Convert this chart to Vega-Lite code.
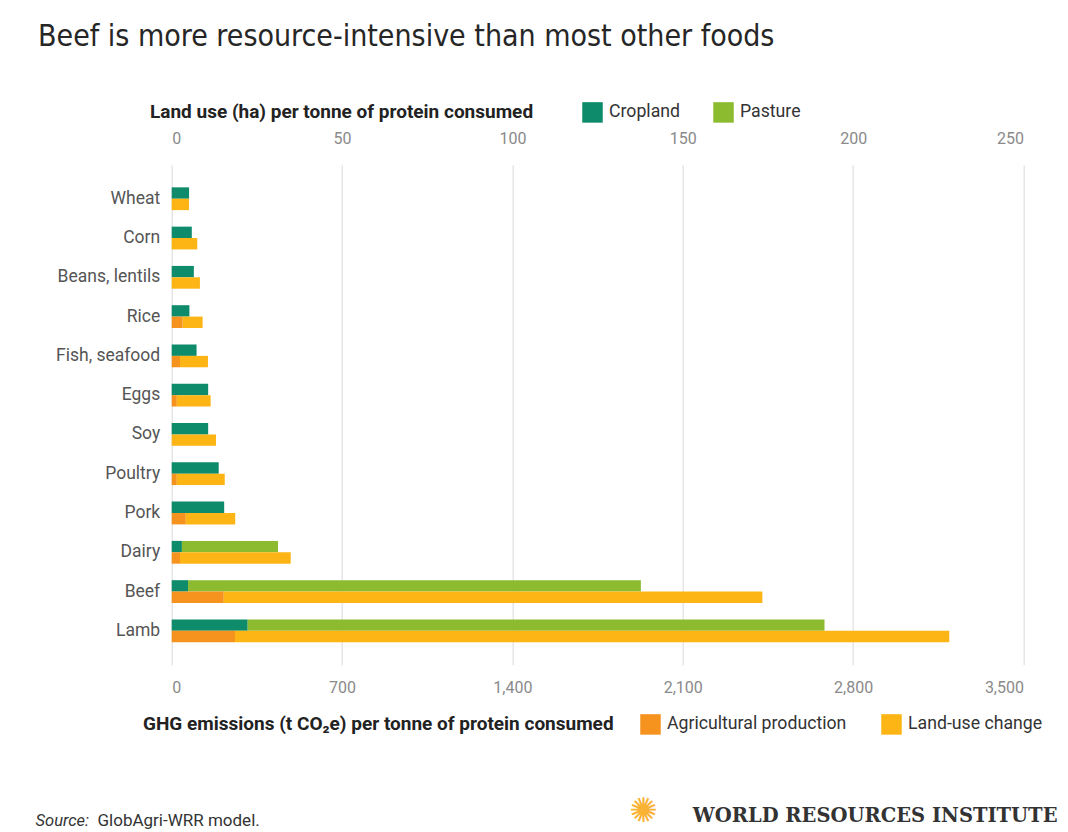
{
  "$schema": "https://vega.github.io/schema/vega-lite/v6.json",
  "autosize": {"type": "none"},
  "width": 851.8,
  "height": 500,
  "padding": {"left": 171.7, "top": 164.8, "right": 44.5, "bottom": 167.2},
  "background": "white",
  "title": {
    "text": "Beef is more resource-intensive than most other foods",
    "anchor": "start",
    "frame": "group",
    "dx": -133.7,
    "offset": 50,
    "font": "Liberation Sans Narrow, DejaVu Sans Condensed, Roboto",
    "fontSize": 30,
    "fontWeight": "normal",
    "color": "#262626"
  },
  "data": {
    "values": [
      {"food": "Wheat", "measure": "land", "component": "Cropland", "value": 5.1},
      {"food": "Corn", "measure": "land", "component": "Cropland", "value": 5.9},
      {"food": "Beans, lentils", "measure": "land", "component": "Cropland", "value": 6.5},
      {"food": "Rice", "measure": "land", "component": "Cropland", "value": 5.2},
      {"food": "Fish, seafood", "measure": "land", "component": "Cropland", "value": 7.3},
      {"food": "Eggs", "measure": "land", "component": "Cropland", "value": 10.7},
      {"food": "Soy", "measure": "land", "component": "Cropland", "value": 10.7},
      {"food": "Poultry", "measure": "land", "component": "Cropland", "value": 13.8},
      {"food": "Pork", "measure": "land", "component": "Cropland", "value": 15.4},
      {"food": "Dairy", "measure": "land", "component": "Cropland", "value": 3.0},
      {"food": "Dairy", "measure": "land", "component": "Pasture", "value": 28.2},
      {"food": "Beef", "measure": "land", "component": "Cropland", "value": 4.8},
      {"food": "Beef", "measure": "land", "component": "Pasture", "value": 132.9},
      {"food": "Lamb", "measure": "land", "component": "Cropland", "value": 22.3},
      {"food": "Lamb", "measure": "land", "component": "Pasture", "value": 169.3},
      {"food": "Wheat", "measure": "ghg", "component": "Land-use change", "value": 71},
      {"food": "Corn", "measure": "ghg", "component": "Land-use change", "value": 105},
      {"food": "Beans, lentils", "measure": "ghg", "component": "Land-use change", "value": 116},
      {"food": "Rice", "measure": "ghg", "component": "Agricultural production", "value": 45},
      {"food": "Rice", "measure": "ghg", "component": "Land-use change", "value": 82},
      {"food": "Fish, seafood", "measure": "ghg", "component": "Agricultural production", "value": 34},
      {"food": "Fish, seafood", "measure": "ghg", "component": "Land-use change", "value": 115},
      {"food": "Eggs", "measure": "ghg", "component": "Agricultural production", "value": 21},
      {"food": "Eggs", "measure": "ghg", "component": "Land-use change", "value": 139},
      {"food": "Soy", "measure": "ghg", "component": "Land-use change", "value": 182},
      {"food": "Poultry", "measure": "ghg", "component": "Agricultural production", "value": 21},
      {"food": "Poultry", "measure": "ghg", "component": "Land-use change", "value": 197},
      {"food": "Pork", "measure": "ghg", "component": "Agricultural production", "value": 58},
      {"food": "Pork", "measure": "ghg", "component": "Land-use change", "value": 203},
      {"food": "Dairy", "measure": "ghg", "component": "Agricultural production", "value": 34},
      {"food": "Dairy", "measure": "ghg", "component": "Land-use change", "value": 455},
      {"food": "Beef", "measure": "ghg", "component": "Agricultural production", "value": 214},
      {"food": "Beef", "measure": "ghg", "component": "Land-use change", "value": 2213},
      {"food": "Lamb", "measure": "ghg", "component": "Agricultural production", "value": 260},
      {"food": "Lamb", "measure": "ghg", "component": "Land-use change", "value": 2935}
    ]
  },
  "layer": [
    {
      "transform": [{"filter": "datum.measure === 'land'"}],
      "mark": {"type": "bar"},
      "encoding": {
        "y": {
          "field": "food",
          "type": "nominal",
          "scale": {
            "domain": ["Wheat", "Corn", "Beans, lentils", "Rice", "Fish, seafood", "Eggs", "Soy", "Poultry", "Pork", "Dairy", "Beef", "Lamb"],
            "paddingInner": 0.42,
            "paddingOuter": 0.574
          },
          "axis": {
            "orient": "left",
            "ticks": false,
            "domain": false,
            "grid": false,
            "labelFont": "Roboto",
            "labelFontSize": 17.5,
            "labelColor": "#555555",
            "labelPadding": 12,
            "title": "Source:",
            "titleAngle": 0,
            "titleX": -136.7,
            "titleY": 660.2,
            "titleAlign": "left",
            "titleBaseline": "alphabetic",
            "titleFont": "Roboto",
            "titleFontStyle": "italic",
            "titleFontWeight": "normal",
            "titleFontSize": 16.5,
            "titleColor": "#333333"
          }
        },
        "yOffset": {
          "field": "measure",
          "type": "nominal",
          "scale": {"domain": ["land", "ghg"], "paddingInner": 0, "paddingOuter": 0}
        },
        "x": {
          "field": "value",
          "type": "quantitative",
          "stack": "zero",
          "scale": {"domain": [0, 250], "nice": false},
          "axis": {
            "orient": "top",
            "values": [0, 50, 100, 150, 200, 250],
            "format": ".0f",
            "grid": false,
            "ticks": false,
            "tickSize": 0,
            "domain": false,
            "labelFont": "Roboto",
            "labelFontSize": 16,
            "labelColor": "#8a8a8a",
            "labelPadding": 18,
            "title": "✺",
            "titleX": 471.3,
            "titleY": 646.7,
            "titleAlign": "center",
            "titleBaseline": "middle",
            "titleAngle": 0,
            "titleFont": "DejaVu Sans",
            "titleFontWeight": "normal",
            "titleFontSize": 34,
            "titleColor": "#F9B233"
          }
        },
        "color": {
          "field": "component",
          "type": "nominal",
          "scale": {"domain": ["Cropland", "Pasture"], "range": ["#0E8B6B", "#8DBB30"]},
          "legend": {
            "orient": "none",
            "legendX": -21.7,
            "legendY": -63,
            "direction": "horizontal",
            "title": "Land use (ha) per tonne of protein consumed",
            "titleOrient": "left",
            "titleFontSize": 19,
            "titlePadding": 48,
            "columnPadding": 32
          }
        },
        "order": {"field": "component", "sort": "ascending"}
      }
    },
    {
      "transform": [{"filter": "datum.measure === 'ghg'"}],
      "mark": {"type": "bar"},
      "encoding": {
        "y": {
          "field": "food",
          "type": "nominal",
          "scale": {
            "domain": ["Wheat", "Corn", "Beans, lentils", "Rice", "Fish, seafood", "Eggs", "Soy", "Poultry", "Pork", "Dairy", "Beef", "Lamb"],
            "paddingInner": 0.42,
            "paddingOuter": 0.574
          },
          "axis": {
            "orient": "right",
            "labels": false,
            "ticks": false,
            "domain": false,
            "grid": false,
            "title": "WORLD RESOURCES INSTITUTE",
            "titleAngle": 0,
            "titleX": 33.5,
            "titleY": 656.2,
            "titleAlign": "right",
            "titleBaseline": "alphabetic",
            "titleFont": "DejaVu Serif",
            "titleFontWeight": "bold",
            "titleFontSize": 19.5,
            "titleColor": "#333333"
          }
        },
        "yOffset": {
          "field": "measure",
          "type": "nominal",
          "scale": {"domain": ["land", "ghg"], "paddingInner": 0, "paddingOuter": 0}
        },
        "x": {
          "field": "value",
          "type": "quantitative",
          "stack": "zero",
          "scale": {"domain": [0, 3500], "nice": false},
          "axis": {
            "orient": "bottom",
            "values": [0, 700, 1400, 2100, 2800, 3500],
            "format": ",.0f",
            "grid": true,
            "gridColor": "#e2e2e2",
            "gridWidth": 1.3,
            "ticks": false,
            "tickSize": 0,
            "domain": false,
            "labelFont": "Roboto",
            "labelFontSize": 16,
            "labelColor": "#8a8a8a",
            "labelPadding": 15,
            "title": "GlobAgri-WRR model.",
            "titleX": -74.7,
            "titleY": 160.2,
            "titleAlign": "left",
            "titleBaseline": "alphabetic",
            "titleAngle": 0,
            "titleFont": "Roboto",
            "titleFontWeight": "normal",
            "titleFontSize": 17,
            "titleColor": "#333333"
          }
        },
        "color": {
          "field": "component",
          "type": "nominal",
          "scale": {"domain": ["Agricultural production", "Land-use change"], "range": ["#F6921E", "#FDB515"]},
          "legend": {
            "orient": "none",
            "legendX": -28.7,
            "legendY": 549,
            "direction": "horizontal",
            "title": "GHG emissions (t CO₂e) per tonne of protein consumed",
            "titleOrient": "left",
            "titleFontSize": 19,
            "titlePadding": 26,
            "columnPadding": 34
          }
        },
        "order": {"field": "component", "sort": "ascending"}
      }
    }
  ],
  "resolve": {
    "scale": {"x": "independent", "color": "independent"},
    "axis": {"y": "independent"}
  },
  "config": {
    "view": {"stroke": null},
    "legend": {
      "titleFont": "Roboto",
      "titleFontWeight": "bold",
      "titleFontSize": 17,
      "titleColor": "#222222",
      "titleBaseline": "middle",
      "titleLimit": 1000,
      "labelFont": "Roboto",
      "labelFontSize": 17.7,
      "labelColor": "#333333",
      "labelLimit": 600,
      "labelOffset": 6,
      "symbolType": "square",
      "symbolSize": 420,
      "symbolStrokeWidth": 0,
      "symbolOpacity": 1
    }
  }
}
